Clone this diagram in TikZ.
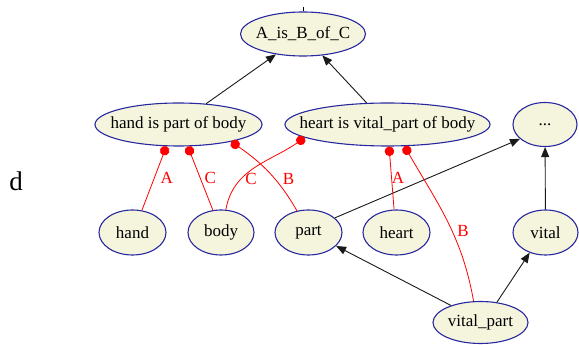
\documentclass[tikz,border=0pt]{standalone}
\usepackage{fontspec}
\setmainfont{Liberation Serif}
\usetikzlibrary{shapes,arrows.meta}

\definecolor{objfill}{RGB}{245,245,222}
\definecolor{objline}{RGB}{40,40,160}
\newcommand{\ctext}[1]{\makebox[0pt]{#1}}

\begin{document}
\begin{tikzpicture}[x=1pt, y=1pt,
    obj/.style={ellipse, draw=objline, fill=objfill, line width=1.1pt, inner sep=0pt,
        minimum height=44pt, font=\fontsize{17}{19}\selectfont},
    isa/.style={-{Triangle[length=10pt, width=8pt]}, line width=0.9pt, black!90},
    role/.style={{Circle[length=9.5pt]}-, line width=0.8pt, red},
    rlbl/.style={red, inner sep=0pt, font=\fontsize{17}{19}\selectfont}]

    \useasboundingbox (0,0) rectangle (579,345);

    % top row
    \coordinate (root) at (303,338);
    \node[obj, minimum width=125pt] (abc) at (303,311) {\ctext{A\_is\_B\_of\_C}};

    % statements
    \node[obj, minimum width=167pt, minimum height=43pt] (hipob) at (178.5,220.5) {\ctext{hand is part of body}};
    \node[obj, minimum width=205pt, minimum height=43pt] (hivpob) at (387.5,220.5) {\ctext{heart is vital\_part of body}};
    \node[obj, minimum width=64pt] (dots) at (545,220.5) {\ctext{...}};

    % terms
    \node[obj, minimum width=67pt, minimum height=45pt] (hand) at (132.5,112.5) {\ctext{hand}};
    \node[obj, minimum width=66pt, minimum height=45pt] (body) at (221,112.5) {\ctext{body}};
    \node[obj, minimum width=67pt, minimum height=45pt] (part) at (308.5,112.5) {\ctext{part}};
    \node[obj, minimum width=67pt, minimum height=45pt] (heart) at (396.5,112.5) {\ctext{heart}};
    \node[obj, minimum width=65pt, minimum height=45pt] (vital) at (545.5,112.5) {\ctext{vital}};
    \node[obj, minimum width=95pt, minimum height=42pt] (vp) at (480.5,22.5) {\ctext{vital\_part}};

    \node[font=\fontsize{27}{29}\selectfont] (dlabel) at (16,164) {d};

    % is-a links
    \draw[line width=0.9pt] (root) -- (abc);
    \draw[isa] (hipob.37) -- (abc.217);
    \draw[isa] (hivpob.134) -- (abc.-48);
    \draw[isa] (part.29) -- (dots.210);
    \draw[isa] (vital) -- (dots);
    \draw[isa] (vp.150) -- (part.-26);
    \draw[isa] (vp.51) -- (vital.232);

    % roles
    \draw[role] (hipob.241) -- node[rlbl, right=6pt] {A} (hand.67);
    \draw[role] (hipob.-67) -- node[rlbl, right=4pt] {C} (body.110);
    \draw[role] (hivpob.189) to[out=215, in=80] node[rlbl, pos=.68, right=4pt] {C} (body.78);
    \draw[role] (hipob.-18) to[out=-35, in=120] node[rlbl, pos=.6, right=8pt] {B} (part.118);
    \draw[role] (hivpob.-86) -- node[rlbl, right=0pt] {A} (heart.96);
    \draw[role] (hivpob.-52) to[out=-60, in=100] node[rlbl, pos=.57, right=5pt] {B} (vp.108);
\end{tikzpicture}
\end{document}
